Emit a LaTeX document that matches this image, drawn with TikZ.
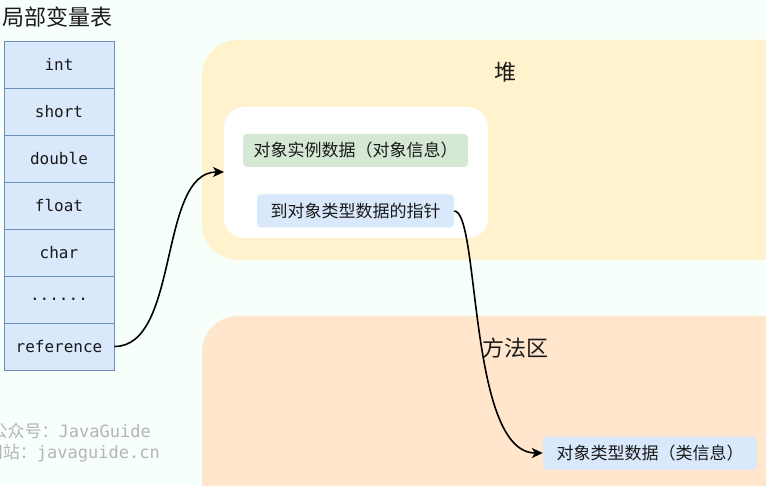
\documentclass[tikz,border=0pt]{standalone}
\usepackage{fontspec}
\setmainfont{Noto Sans CJK SC}
\newfontfamily\cjk{Noto Sans CJK SC}
\newfontfamily\mono{DejaVu Sans Mono}
\usetikzlibrary{arrows.meta}
\definecolor{bgc}{HTML}{F6FFF9}
\definecolor{heapc}{HTML}{FFF2CC}
\definecolor{methc}{HTML}{FFE6CC}
\definecolor{greenc}{HTML}{D5E8D4}
\definecolor{bluec}{HTML}{DAE8FC}
\definecolor{blueb}{HTML}{6C8EBF}
\definecolor{txtc}{HTML}{1A1A1A}
\definecolor{wmc}{HTML}{B5B5B5}
\tikzset{
  cell/.style={draw=blueb, line width=0.9pt, fill=bluec, minimum width=110pt, minimum height=47pt, inner sep=0pt, font=\mono\fontsize{16}{19}\selectfont, text=txtc},
  item/.style={rounded corners=4pt, inner sep=0pt, minimum height=33pt, font=\cjk\fontsize{17}{20}\selectfont, text=txtc},
  region/.style={rounded corners=36pt},
  conn/.style={line width=1.6pt, -{Stealth[length=11pt,width=10pt,inset=3pt]}},
  label/.style={font=\cjk\fontsize{22}{26}\selectfont, text=txtc, inner sep=0pt},
  wm/.style={text=wmc, inner sep=0pt, anchor=east, font=\fontsize{17}{20}\selectfont}
}
\begin{document}
\begin{tikzpicture}[x=1pt,y=-1pt]
\useasboundingbox (0,0) rectangle (766,486);
\clip (0,0) rectangle (766,486);
\fill[bgc] (0,0) rectangle (766,486);
% regions
\fill[heapc, region] (202,40) rectangle (860,260);
\fill[methc, region] (202,316) rectangle (860,560);
\fill[white, rounded corners=20pt] (224,107) rectangle (488,238);
\node[label] (heap) at (505,72) {堆};
\node[label] (meth) at (515,348) {方法区};
% title
\node[label, anchor=west] (title) at (2,17) {局部变量表};
% table
\node[cell] (r1) at (59,64.5) {int};
\node[cell] (r2) at (59,111.5) {short};
\node[cell] (r3) at (59,158.5) {double};
\node[cell] (r4) at (59,205.5) {float};
\node[cell] (r5) at (59,252.5) {char};
\node[cell] (r6) at (59,299.5) {......};
\node[cell] (r7) at (59,346.5) {reference};
% heap items
\coordinate (whiteW) at (224,172);
\node[item, fill=greenc, minimum width=225pt] (inst) at (355.5,150.5) {对象实例数据（对象信息）};
\node[item, fill=bluec, minimum width=197pt] (ptr) at (355.5,211) {到对象类型数据的指针};
\node[item, fill=bluec, minimum width=214pt] (cls) at (650,453) {对象类型数据（类信息）};
% connectors
\draw[conn] (r7.east) .. controls (180,346.5) and (158,172) .. (whiteW);
\draw[conn] (ptr.east) .. controls (480,211) and (468,453) .. (cls.west);
% watermark
\node[wm] (wm1) at (151,431) {{\cjk 公众号：}{\mono JavaGuide}};
\node[wm] (wm2) at (160,453) {{\cjk 网站：}{\mono javaguide.cn}};
\end{tikzpicture}
\end{document}
